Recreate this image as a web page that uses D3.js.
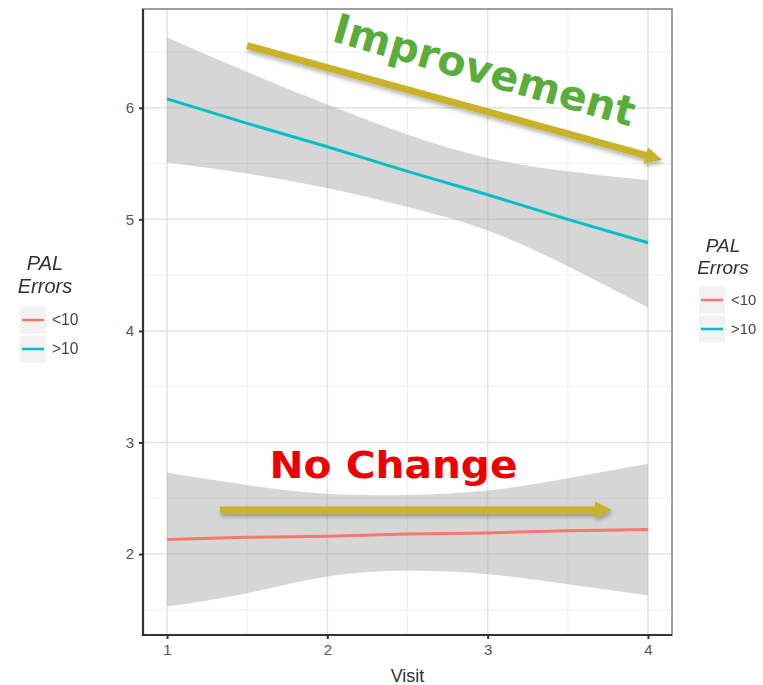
<!DOCTYPE html>
<html>
<head>
<meta charset="utf-8">
<script src="https://cdn.jsdelivr.net/npm/d3@7"></script>
<style>
  body { margin: 0; background: #fff; }
  svg { display: block; }
</style>
</head>
<body>
<svg id="chart" width="763" height="685"></svg>
<script>
// Visits at which the fitted lines and confidence bands are sampled
const visits = [1, 1.5, 2, 2.5, 3, 3.5, 4];

// PAL Errors < 10 : linear fit and its confidence band
const fitLow      = [2.13, 2.15, 2.16, 2.18, 2.19, 2.21, 2.22];
const bandLowMin  = [1.53, 1.65, 1.80, 1.85, 1.82, 1.73, 1.63];
const bandLowMax  = [2.73, 2.62, 2.54, 2.53, 2.57, 2.68, 2.81];

// PAL Errors > 10 : linear fit and its confidence band
const fitHigh     = [6.08, 5.86, 5.65, 5.43, 5.22, 5.00, 4.79];
const bandHighMin = [5.51, 5.41, 5.28, 5.11, 4.90, 4.58, 4.21];
const bandHighMax = [6.63, 6.32, 6.03, 5.76, 5.55, 5.43, 5.35];

const groups = ["<10", ">10"];
const groupColors = ["#F8766D", "#00BFC4"];

const xTicks = [1, 2, 3, 4];
const yTicks = [2, 3, 4, 5, 6];
const xMinor = [1.5, 2.5, 3.5];
const yMinor = [1.5, 2.5, 3.5, 4.5, 5.5, 6.5];

// Annotation arrows and labels, in data units (visit, value)
const arrowImprove  = [[1.50, 6.557], [4.088, 5.533]];
const arrowNoChange = [[1.33, 2.395], [3.776, 2.395]];
const labelImprove  = { text: "Improvement", at: [2.955, 6.215], angle: 16 };
const labelNoChange = { text: "No Change", at: [2.413, 2.683] };

const svg = d3.select("#chart");
const panel = { left: 143, right: 672, top: 9, bottom: 635 };

const yAll = bandLowMin.concat(bandLowMax, bandHighMin, bandHighMax);
const [yLo, yHi] = d3.extent(yAll);
const yPad = (yHi - yLo) * 0.05;
const xPad = (d3.max(visits) - d3.min(visits)) * 0.05;

const x = d3.scaleLinear()
  .domain([d3.min(visits) - xPad, d3.max(visits) + xPad])
  .range([panel.left, panel.right]);
const y = d3.scaleLinear()
  .domain([yLo - yPad, yHi + yPad])
  .range([panel.bottom, panel.top]);

const defs = svg.append("defs");
const shadow = defs.append("filter").attr("id", "shadow")
  .attr("x", "-10%").attr("y", "-50%").attr("width", "120%").attr("height", "300%");
shadow.append("feDropShadow").attr("dx", 1).attr("dy", 3)
  .attr("stdDeviation", 2).attr("flood-color", "#000").attr("flood-opacity", 0.3);
const soft = defs.append("filter").attr("id", "soft");
soft.append("feGaussianBlur").attr("stdDeviation", 0.6);
defs.append("clipPath").attr("id", "panelClip").append("rect")
  .attr("x", panel.left).attr("y", panel.top)
  .attr("width", panel.right - panel.left).attr("height", panel.bottom - panel.top);

// Grid
const grid = svg.append("g");
grid.selectAll(".vminor").data(xMinor).join("line")
  .attr("x1", d => x(d)).attr("x2", d => x(d))
  .attr("y1", panel.top).attr("y2", panel.bottom)
  .attr("stroke", "#f0f0f0").attr("stroke-width", 1);
grid.selectAll(".hminor").data(yMinor).join("line")
  .attr("y1", d => y(d)).attr("y2", d => y(d))
  .attr("x1", panel.left).attr("x2", panel.right)
  .attr("stroke", "#f0f0f0").attr("stroke-width", 1);
grid.selectAll(".vmajor").data(xTicks).join("line")
  .attr("x1", d => x(d)).attr("x2", d => x(d))
  .attr("y1", panel.top).attr("y2", panel.bottom)
  .attr("stroke", "#e4e4e4").attr("stroke-width", 1.5);
grid.selectAll(".hmajor").data(yTicks).join("line")
  .attr("y1", d => y(d)).attr("y2", d => y(d))
  .attr("x1", panel.left).attr("x2", panel.right)
  .attr("stroke", "#e4e4e4").attr("stroke-width", 1.5);

// Bands and fitted lines
const series = [
  { fit: fitLow,  lo: bandLowMin,  hi: bandLowMax,  color: groupColors[0] },
  { fit: fitHigh, lo: bandHighMin, hi: bandHighMax, color: groupColors[1] }
];
const area = d3.area().curve(d3.curveNatural)
  .x(d => x(d.v)).y0(d => y(d.lo)).y1(d => y(d.hi));
const line = d3.line().x(d => x(d.v)).y(d => y(d.f));
const plot = svg.append("g").attr("clip-path", "url(#panelClip)");
series.forEach(s => {
  const pts = visits.map((v, i) => ({ v, f: s.fit[i], lo: s.lo[i], hi: s.hi[i] }));
  plot.append("path").datum(pts).attr("d", area)
    .attr("fill", "#999999").attr("fill-opacity", 0.4);
  plot.append("path").datum(pts).attr("d", line)
    .attr("fill", "none").attr("stroke", s.color).attr("stroke-width", 3);
});

// Panel border and axes
svg.append("rect")
  .attr("x", panel.left).attr("y", panel.top)
  .attr("width", panel.right - panel.left).attr("height", panel.bottom - panel.top)
  .attr("fill", "none").attr("stroke", "#808080").attr("stroke-width", 1.5);

const yAxis = svg.append("g").attr("transform", `translate(${panel.left},0)`)
  .call(d3.axisLeft(y).tickValues(yTicks).tickSize(4).tickPadding(5).tickFormat(d3.format("d")));
const xAxis = svg.append("g").attr("transform", `translate(0,${panel.bottom})`)
  .call(d3.axisBottom(x).tickValues(xTicks).tickSize(4).tickPadding(5).tickFormat(d3.format("d")));
[yAxis, xAxis].forEach(a => {
  a.select(".domain").remove();
  a.selectAll(".tick line").attr("stroke", "#333").attr("stroke-width", 2);
  a.selectAll(".tick text").attr("fill", "#555")
    .attr("font-family", "'Liberation Sans', Arial, sans-serif").attr("font-size", 15);
});
svg.append("line").attr("x1", panel.left).attr("x2", panel.left)
  .attr("y1", panel.top).attr("y2", panel.bottom + 1)
  .attr("stroke", "#333").attr("stroke-width", 2.2);
svg.append("line").attr("x1", panel.left - 1).attr("x2", panel.right)
  .attr("y1", panel.bottom).attr("y2", panel.bottom)
  .attr("stroke", "#333").attr("stroke-width", 2.2);

svg.append("text").text("Visit")
  .attr("x", (panel.left + panel.right) / 2).attr("y", 682)
  .attr("text-anchor", "middle").attr("fill", "#333")
  .attr("font-family", "'Liberation Sans', Arial, sans-serif").attr("font-size", 18);

// Legends (drawn on both sides)
function legend(cx, keyX, titleY, keyY, step, size) {
  const g = svg.append("g").attr("filter", "url(#soft)")
    .attr("font-family", "'Liberation Sans', Arial, sans-serif");
  g.append("text").text("PAL").attr("x", cx).attr("y", titleY)
    .attr("text-anchor", "middle").attr("font-style", "italic")
    .attr("font-size", size).attr("fill", "#333");
  g.append("text").text("Errors").attr("x", cx).attr("y", titleY + size * 1.15)
    .attr("text-anchor", "middle").attr("font-style", "italic")
    .attr("font-size", size).attr("fill", "#333");
  groups.forEach((gname, i) => {
    const ky = keyY + i * step;
    g.append("rect").attr("x", keyX).attr("y", ky - step / 2 + 1)
      .attr("width", 26).attr("height", step - 2)
      .attr("fill", "#f2f2f2");
    g.append("line").attr("x1", keyX + 2).attr("x2", keyX + 24)
      .attr("y1", ky).attr("y2", ky)
      .attr("stroke", groupColors[i]).attr("stroke-width", 2.5);
    g.append("text").text(gname).attr("x", keyX + 32).attr("y", ky + 5)
      .attr("font-size", size * 0.78).attr("fill", "#444");
  });
}
legend(45, 20, 270, 320, 29, 20);
legend(723, 699, 252, 300, 29, 19);

// Annotations
function arrow(pts) {
  const [x0, y0] = [x(pts[0][0]), y(pts[0][1])];
  const [x1, y1] = [x(pts[1][0]), y(pts[1][1])];
  const ang = Math.atan2(y1 - y0, x1 - x0);
  const headLen = 17, headHalf = 8.5, shaft = 7;
  const bx = x1 - headLen * Math.cos(ang), by = y1 - headLen * Math.sin(ang);
  const nx = -Math.sin(ang), ny = Math.cos(ang);
  const g = svg.append("g").attr("filter", "url(#shadow)");
  g.append("line").attr("x1", x0).attr("y1", y0).attr("x2", bx + 2 * Math.cos(ang)).attr("y2", by + 2 * Math.sin(ang))
    .attr("stroke", "#c8b22c").attr("stroke-width", shaft);
  g.append("path")
    .attr("d", `M${x1},${y1}L${bx + nx * headHalf},${by + ny * headHalf}L${bx - nx * headHalf},${by - ny * headHalf}Z`)
    .attr("fill", "#c8b22c");
}
arrow(arrowImprove);
arrow(arrowNoChange);

svg.append("text").text(labelImprove.text)
  .attr("transform", `translate(${x(labelImprove.at[0])},${y(labelImprove.at[1])}) rotate(${labelImprove.angle})`)
  .attr("text-anchor", "middle")
  .attr("font-family", "'DejaVu Sans', Verdana, sans-serif").attr("font-weight", "bold")
  .attr("font-size", 41).attr("fill", "#5aad3a")
  .attr("textLength", 312).attr("lengthAdjust", "spacingAndGlyphs");

svg.append("text").text(labelNoChange.text)
  .attr("x", x(labelNoChange.at[0])).attr("y", y(labelNoChange.at[1]))
  .attr("text-anchor", "middle")
  .attr("font-family", "'DejaVu Sans', Verdana, sans-serif").attr("font-weight", "bold")
  .attr("font-size", 38).attr("fill", "#ee0000")
  .attr("textLength", 248).attr("lengthAdjust", "spacingAndGlyphs");
</script>
</body>
</html>
